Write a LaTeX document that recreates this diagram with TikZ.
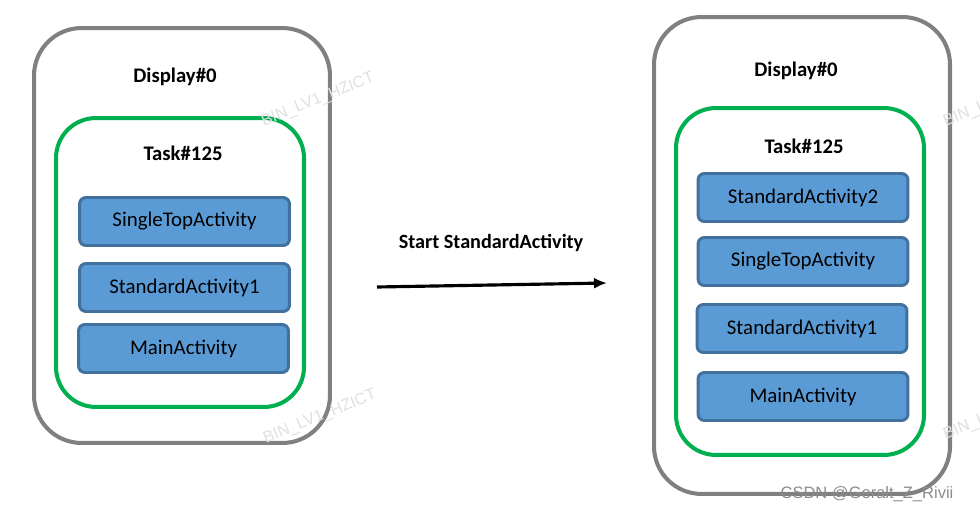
\documentclass[tikz,border=0pt]{standalone}
\usepackage{fontspec}
\setmainfont{Carlito}
\newfontfamily\wmfont{Liberation Sans}
\usetikzlibrary{arrows.meta}
\definecolor{dispgray}{RGB}{128,128,128}
\definecolor{taskgreen}{RGB}{0,176,80}
\definecolor{actfill}{RGB}{91,155,213}
\definecolor{actline}{RGB}{65,113,156}
\tikzset{
	display/.style={draw=dispgray,line width=2.3pt,rounded corners=0.95cm,
		inner sep=0pt,minimum width=5.92cm},
	task/.style={draw=taskgreen,line width=2.3pt,rounded corners=0.8cm,
		inner sep=0pt,minimum width=4.96cm},
	act/.style={draw=actline,fill=actfill,line width=1.7pt,rounded corners=0.13cm,
		inner sep=0pt,minimum width=4.2cm,minimum height=0.96cm,font=\fontsize{11.9}{14}\selectfont},
	title/.style={font=\bfseries\fontsize{11.8}{14}\selectfont},
	wmark/.style={text=black!12,font=\wmfont\fontsize{9.2}{11}\selectfont,rotate=22},
}
\begin{document}
\begin{tikzpicture}[x=0.02cm,y=-0.02cm]
	\useasboundingbox[fill=white] (0,0) rectangle (980,513);
	% before
	\node[display,minimum height=8.3cm] (dispL) at (182,235.5) {};
	\node[title] (dispLlbl) at (175,77) {Display\#0};
	\node[task,minimum height=5.78cm] (taskL) at (180,262.5) {};
	\node[title] (taskLlbl) at (183,153) {Task\#125};
	\node[act] (singleL) at (184.5,221.5) {SingleTopActivity};
	\node[act] (std1L) at (184.5,287.5) {StandardActivity1};
	\node[act] (mainL) at (183.5,348.5) {MainActivity};
	% transition
	\coordinate (arrS) at (377,287);
	\coordinate (arrE) at (607,283);
	\draw[line width=1.8pt,-{Latex[length=0.26cm,width=0.22cm]}] (arrS) -- (arrE);
	\node[title,font=\bfseries\fontsize{11.5}{14}\selectfont] (arrlbl) at (491,243) {Start StandardActivity};
	% after
	\node[display,minimum height=9.54cm] (dispR) at (802,255.5) {};
	\node[title] (dispRlbl) at (796,71) {Display\#0};
	\node[task,minimum height=6.94cm] (taskR) at (800,281.5) {};
	\node[title] (taskRlbl) at (804,146) {Task\#125};
	\node[act] (std2R) at (803,197.5) {StandardActivity2};
	\node[act] (singleR) at (803,261.5) {SingleTopActivity};
	\node[act] (std1R) at (802,328.5) {StandardActivity1};
	\node[act] (mainR) at (803,396.5) {MainActivity};
	% watermarks
	\node[wmark] (wm1) at (318,100) {BIN\_LV1\_HZICT};
	\node[wmark] (wm2) at (320,417) {BIN\_LV1\_HZICT};
	\node[wmark] (wm3) at (1000,100) {BIN\_LV1\_HZICT};
	\node[wmark] (wm4) at (1000,413) {BIN\_LV1\_HZICT};
	\node[text=black!45,font=\wmfont\fontsize{9.4}{11}\selectfont] (csdn) at (867,494) {CSDN @Geralt\_Z\_Rivii};
\end{tikzpicture}
\end{document}
